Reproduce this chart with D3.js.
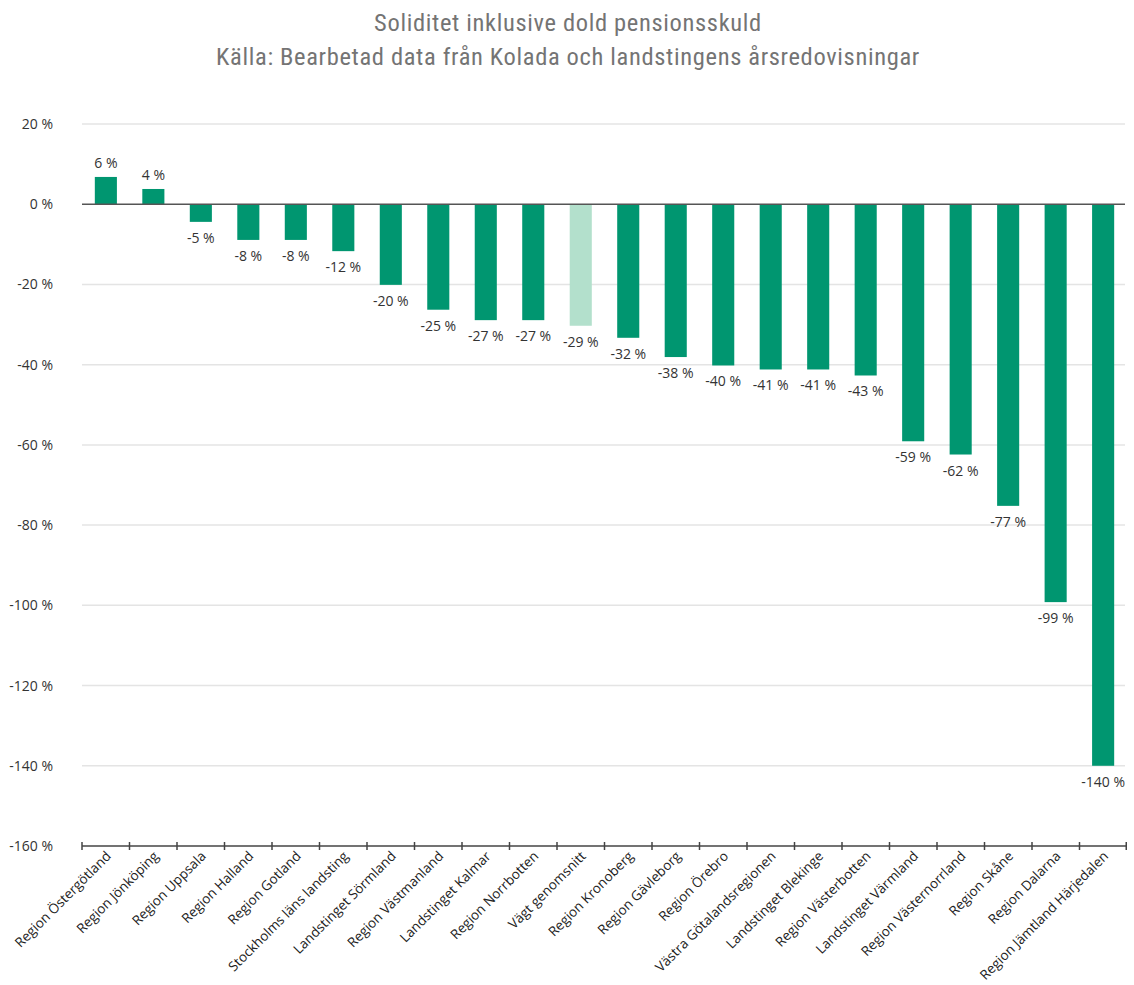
<!DOCTYPE html>
<html>
<head>
<meta charset="utf-8">
<script src="https://cdn.jsdelivr.net/npm/d3@7"></script>
<style>
    body { margin: 0; background: #fff; }
    svg text { font-family: "Open Sans", "Noto Sans", sans-serif; }
</style>
</head>
<body>
<svg id="chart" width="1134" height="985"></svg>
<script>
// data
const categories = [
    "Region Östergötland", "Region Jönköping", "Region Uppsala", "Region Halland",
    "Region Gotland", "Stockholms läns landsting", "Landstinget Sörmland",
    "Region Västmanland", "Landstinget Kalmar", "Region Norrbotten", "Vägt genomsnitt",
    "Region Kronoberg", "Region Gävleborg", "Region Örebro", "Västra Götalandsregionen",
    "Landstinget Blekinge", "Region Västerbotten", "Landstinget Värmland",
    "Region Västernorrland", "Region Skåne", "Region Dalarna", "Region Jämtland Härjedalen"
];
// bar lengths
const values = [6.8, 3.8, -4.4, -8.9, -8.9, -11.7, -20.1, -26.3, -28.9, -28.9, -30.3,
    -33.3, -38.1, -40.2, -41.2, -41.2, -42.7, -59.1, -62.4, -75.2, -99.2, -140];
// printed labels (as shown in the source chart)
const labels = [6, 4, -5, -8, -8, -12, -20, -25, -27, -27, -29,
    -32, -38, -40, -41, -41, -43, -59, -62, -77, -99, -140];
const highlight = ["Vägt genomsnitt"];
const yTicks = [20, 0, -20, -40, -60, -80, -100, -120, -140, -160];
const titleLines = [
    "Soliditet inklusive dold pensionsskuld",
    "Källa: Bearbetad data från Kolada och landstingens årsredovisningar"
];

const svg = d3.select("#chart");
const margin = { left: 82, right: 7, top: 124, bottom: 139 };
const width = 1134 - margin.left - margin.right;
const height = 985 - margin.top - margin.bottom;

// title
svg.selectAll(".title")
    .data(titleLines)
    .enter()
    .append("text")
    .attr("x", 568)
    .attr("y", (d, i) => 31 + i * 34)
    .attr("text-anchor", "middle")
    .attr("fill", "#747474")
    .style("font-family", "'Roboto Condensed', 'Liberation Sans Narrow', 'Roboto', sans-serif")
    .style("font-size", "24.5px")
    .style("letter-spacing", "0.65px")
    .text(d => d);

const g = svg.append("g").attr("transform", "translate(" + margin.left + "," + margin.top + ")");

const x = d3.scaleBand().domain(categories).range([0, width]).paddingInner(0.535).paddingOuter(0.27);
const y = d3.scaleLinear().domain([20, -160]).range([0, height]);

// gridlines
g.selectAll(".grid")
    .data(yTicks.filter(d => d !== 0 && d !== -160))
    .enter()
    .append("line")
    .attr("x1", 0).attr("x2", width - 2)
    .attr("y1", d => y(d)).attr("y2", d => y(d))
    .attr("stroke", "#e4e4e4")
    .attr("stroke-width", 1.5);

// y labels
g.selectAll(".ylab")
    .data(yTicks)
    .enter()
    .append("text")
    .attr("x", -29)
    .attr("y", d => y(d) + 5)
    .attr("text-anchor", "end")
    .attr("fill", "#333")
    .style("font-size", "14px")
    .text(d => d + " %");

// bars
g.selectAll(".bar")
    .data(values)
    .enter()
    .append("rect")
    .attr("x", (d, i) => x(categories[i]))
    .attr("width", x.bandwidth())
    .attr("y", d => y(Math.max(0, d)))
    .attr("height", d => Math.abs(y(d) - y(0)))
    .attr("fill", (d, i) => highlight.includes(categories[i]) ? "#b3e0cc" : "#009670");

// value labels
g.selectAll(".vlab")
    .data(values)
    .enter()
    .append("text")
    .attr("x", (d, i) => x(categories[i]) + x.bandwidth() / 2)
    .attr("y", d => d >= 0 ? y(d) - 9 : y(d) + 21)
    .attr("text-anchor", "middle")
    .attr("fill", "#333")
    .style("font-size", "14px")
    .text((d, i) => labels[i] + " %");

// zero line
g.append("line")
    .attr("x1", 0).attr("x2", width - 2)
    .attr("y1", y(0)).attr("y2", y(0))
    .attr("stroke", "#555")
    .attr("stroke-width", 1.5);

// bottom axis with ticks at category boundaries
const axisY = y(-160);
g.append("line")
    .attr("x1", 0).attr("x2", width)
    .attr("y1", axisY).attr("y2", axisY)
    .attr("stroke", "#444")
    .attr("stroke-width", 1.5);

const bounds = d3.range(categories.length + 1);
g.selectAll(".tick")
    .data(bounds)
    .enter()
    .append("line")
    .attr("x1", d => Math.min(d * (width / categories.length), width - 0.75))
    .attr("x2", d => Math.min(d * (width / categories.length), width - 0.75))
    .attr("y1", axisY - 4).attr("y2", axisY + 4)
    .attr("stroke", "#444")
    .attr("stroke-width", 1.5);

g.selectAll(".xlab")
    .data(categories)
    .enter()
    .append("text")
    .attr("transform", d => "translate(" + (x(d) + x.bandwidth() / 2 + 6) + "," + (axisY + 11) + ") rotate(-45)")
    .attr("text-anchor", "end")
    .attr("fill", "#222")
    .style("font-size", "13.5px")
    .text(d => d);
</script>
</body>
</html>
